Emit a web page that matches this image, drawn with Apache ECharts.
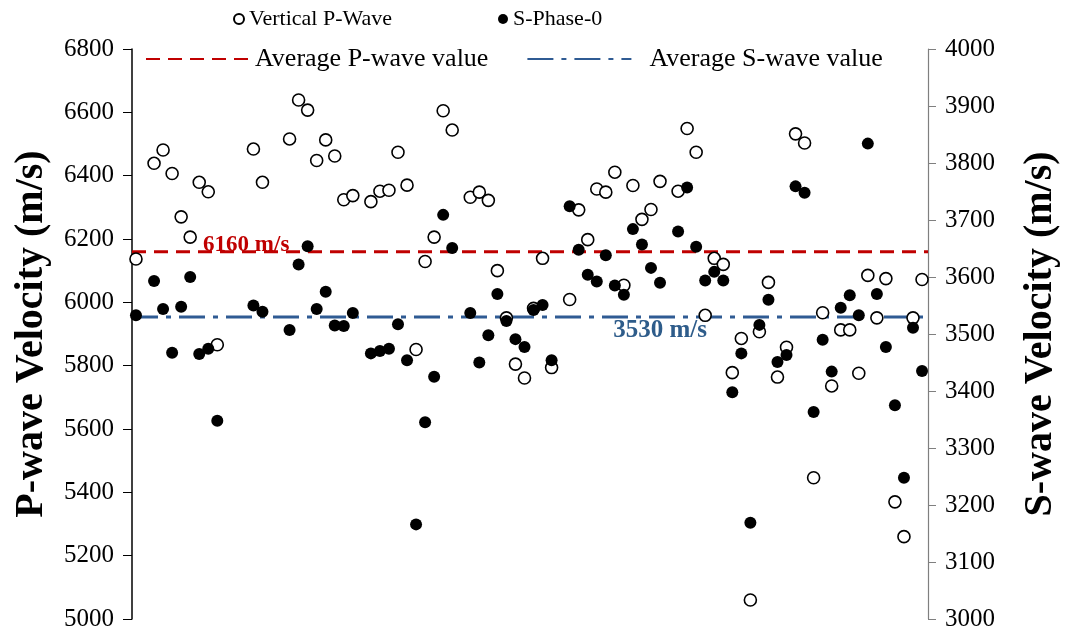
<!DOCTYPE html>
<html>
<head>
<meta charset="utf-8">
<script src="https://cdn.jsdelivr.net/npm/echarts@6/dist/echarts.min.js"></script>
<style>
  html, body { margin: 0; padding: 0; background: #fff; }
  #chart { width: 1069px; height: 633px; }
</style>
</head>
<body>
<div id="chart"></div>
<script>
// Sample index (horizontal position) of each measurement
const sampleIndex = [1,3,4,5,6,7,8,9,10,14,15,18,19,20,21,22,23,24,25,27,28,29,30,31,32,33,34,35,36,38,39,40,41,42,43,44,45,46,47,49,50,51,52,53,54,55,56,57,58,59,61,62,63,64,65,66,67,68,69,70,71,72,73,74,75,76,77,78,79,80,81,82,83,84,85,86,87,88];
// Vertical P-wave velocity (m/s), left axis
const pWave = [6137,6439,6481,6407,6270,6206,6379,6349,5866,6484,6379,6516,6639,6607,6448,6513,6462,6324,6337,6318,6351,6354,6474,6370,5851,6129,6206,6605,6544,6332,6348,6322,6100,5951,5805,5761,5981,6139,5794,6009,6292,6198,6358,6348,6411,6054,6369,6262,6293,6382,6351,6549,6474,5959,6139,6120,5778,5886,5060,5907,6063,5764,5858,6532,6503,5446,5967,5736,5913,5913,5776,6085,5951,6075,5370,5260,5951,6072];
// S-Phase-0 velocity (m/s), right axis
const sWave = [3533,3593,3544,3467,3548,3600,3465,3474,3348,3550,3539,3507,3622,3654,3544,3574,3515,3514,3537,3466,3470,3474,3517,3454,3166,3345,3425,3709,3651,3537,3450,3498,3570,3523,3491,3477,3542,3551,3454,3724,3648,3604,3592,3638,3585,3569,3684,3657,3616,3590,3680,3757,3653,3594,3609,3594,3398,3466,3169,3516,3560,3451,3463,3759,3748,3363,3490,3434,3546,3568,3533,3834,3570,3477,3375,3248,3511,3435];
const avgP = 6160;
const avgS = 3530;
const seriesNames = ['Vertical P-Wave', 'S-Phase-0', 'Average P-wave value', 'Average S-wave value'];
const axisNames = ['P-wave Velocity (m/s)', 'S-wave Velocity (m/s)'];

const X_MIN = 0.56, X_MAX = 88.66;
const FONT = '"Liberation Serif", "Times New Roman", serif';
const RED = '#C00000';
const BLUE = '#2F5B93';
const BLUE_TEXT = '#2E5C8A';

const pData = sampleIndex.map((x, k) => [x, pWave[k]]);
const sData = sampleIndex.map((x, k) => [x, sWave[k]]);

const chart = echarts.init(document.getElementById('chart'), null, { renderer: 'canvas' });
chart.setOption({
  animation: false,
  backgroundColor: '#ffffff',
  grid: { left: 132, right: 134, top: 49, bottom: 14, containLabel: false },
  legend: [
    {
      data: [{ name: seriesNames[0], icon: 'circle' }, { name: seriesNames[1], icon: 'circle' }],
      left: 228, top: 3, itemWidth: 10, itemHeight: 10, itemGap: 106,
      textStyle: { fontFamily: FONT, fontSize: 22, color: '#000' }
    },
    {
      data: [seriesNames[2], seriesNames[3]],
      left: 140, top: 41, itemWidth: 104, itemHeight: 14, itemGap: 38,
      itemStyle: { opacity: 0 },
      formatter: function (name) { return name === seriesNames[3] ? '  ' + name : name; },
      textStyle: { fontFamily: FONT, fontSize: 26, color: '#000' }
    }
  ],
  xAxis: { type: 'value', min: X_MIN, max: X_MAX, show: false, splitLine: { show: false } },
  yAxis: [
    {
      type: 'value', position: 'left', min: 5000, max: 6800, interval: 200,
      name: axisNames[0], nameLocation: 'middle', nameRotate: 90, nameGap: 80,
      nameTextStyle: { fontFamily: FONT, fontSize: 40, fontWeight: 'bold', color: '#000' },
      axisLine: { show: true, lineStyle: { color: '#000', width: 1.5 } },
      axisTick: { show: true, inside: false, length: 9, lineStyle: { color: '#000', width: 1 } },
      axisLabel: { fontFamily: FONT, fontSize: 25, color: '#000', margin: 18, formatter: v => String(v) },
      splitLine: { show: false }
    },
    {
      type: 'value', position: 'right', min: 3000, max: 4000, interval: 100,
      name: axisNames[1], nameLocation: 'middle', nameRotate: 90, nameGap: 93,
      nameTextStyle: { fontFamily: FONT, fontSize: 40, fontWeight: 'bold', color: '#000' },
      axisLine: { show: true, lineStyle: { color: '#7f7f7f', width: 1.2 } },
      axisTick: { show: true, inside: false, length: 8, lineStyle: { color: '#7f7f7f', width: 1 } },
      axisLabel: { fontFamily: FONT, fontSize: 25, color: '#000', margin: 17, formatter: v => String(v) },
      splitLine: { show: false }
    }
  ],
  series: [
    {
      name: seriesNames[0], type: 'scatter', yAxisIndex: 0, data: pData,
      symbol: 'circle', symbolSize: 12,
      itemStyle: { color: '#ffffff', borderColor: '#000', borderWidth: 1.6, opacity: 1 }
    },
    {
      name: seriesNames[1], type: 'scatter', yAxisIndex: 1, data: sData,
      symbol: 'circle', symbolSize: 12,
      itemStyle: { color: '#000', borderColor: '#000', borderWidth: 0, opacity: 1 }
    },
    {
      name: seriesNames[2], type: 'line', yAxisIndex: 0, silent: true,
      data: [[X_MIN, avgP], [X_MAX, avgP]], symbol: 'none', z: 1,
      lineStyle: { color: RED, width: 3, type: [14, 8] },
      itemStyle: { color: RED },
      markPoint: {
        symbol: 'circle', symbolSize: 0, silent: true,
        label: { show: true, position: 'inside', offset: [0, -7], formatter: avgP + ' m/s',
          fontFamily: FONT, fontSize: 23, fontWeight: 'bold', color: RED },
        data: [{ coord: [13.2, avgP] }]
      }
    },
    {
      name: seriesNames[3], type: 'line', yAxisIndex: 1, silent: true,
      data: [[X_MIN, avgS], [X_MAX, avgS]], symbol: 'none', z: 1,
      lineStyle: { color: BLUE, width: 3, type: [26, 8, 5, 8] },
      itemStyle: { color: BLUE },
      markPoint: {
        symbol: 'circle', symbolSize: 0, silent: true,
        label: { show: true, position: 'inside', offset: [0, 14], formatter: avgS + ' m/s',
          fontFamily: FONT, fontSize: 25, fontWeight: 'bold', color: BLUE_TEXT },
        data: [{ coord: [59, avgS] }]
      }
    }
  ]
});
</script>
</body>
</html>
